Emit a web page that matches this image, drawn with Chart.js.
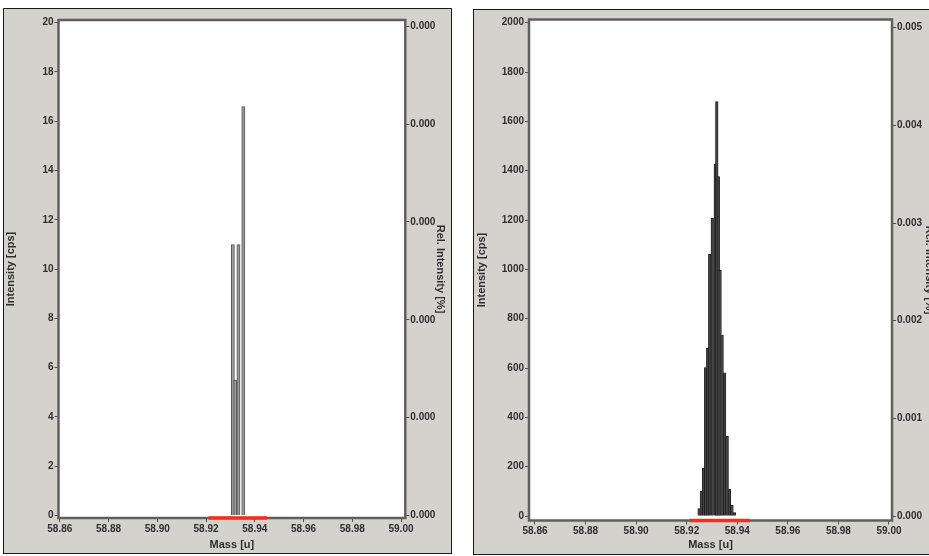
<!DOCTYPE html>
<html>
<head>
<meta charset="utf-8">
<script src="https://cdn.jsdelivr.net/npm/chart.js@4.4.1/dist/chart.umd.min.js"></script>
<style>
  html, body { margin: 0; padding: 0; background: #fff; overflow: hidden; }
  body { width: 929px; height: 556px; position: relative; }
  .panel { position: absolute; background: #d4d2cd; border: 1px solid #1a1a1a; }
  .panel canvas { display: block; }
  #panelA { left: 3px; top: 8px; width: 447px; height: 544px; }
  #panelB { left: 473px; top: 9px; width: 466px; height: 544px; }
</style>
</head>
<body>
<div class="panel" id="panelA"><canvas id="spectrumA" width="447" height="544"></canvas></div>
<div class="panel" id="panelB"><canvas id="spectrumB" width="466" height="544"></canvas></div>
<script>
// mass axis, same for both spectra
const massTicks = [58.86, 58.88, 58.90, 58.92, 58.94, 58.96, 58.98, 59.00];
const massTickLabels = ['58.86', '58.88', '58.90', '58.92', '58.94', '58.96', '58.98', '59.00'];
const windowRange = [58.921, 58.945]; // red mass window on the axis

// left spectrum
const massA = [58.9310, 58.9320, 58.9333, 58.9353];
const intensityA = [11.0, 5.5, 11.0, 16.6];
const intensityTicksA = [0, 2, 4, 6, 8, 10, 12, 14, 16, 18, 20];
const relTicksA = [0, 0.0001, 0.0002, 0.0003, 0.0004, 0.0005];
const relTickLabelsA = ['0.000', '0.000', '0.000', '0.000', '0.000', '0.000'];

// right spectrum
const massB = [58.9249, 58.9258, 58.9267, 58.9275, 58.9283, 58.9291, 58.9301, 58.9313, 58.9319,
  58.9325, 58.9332, 58.9340, 58.9350, 58.9360, 58.9369, 58.9379, 58.9389];
const intensityB = [30, 100, 194, 602, 681, 1061, 1207, 1427, 1680,
  1376, 996, 734, 581, 323, 108, 43, 14];
const intensityTicksB = [0, 200, 400, 600, 800, 1000, 1200, 1400, 1600, 1800, 2000];
const relTicksB = [0, 0.001, 0.002, 0.003, 0.004, 0.005];
const relTickLabelsB = ['0.000', '0.001', '0.002', '0.003', '0.004', '0.005'];

const tickFont = { family: '"Liberation Sans", Arial, sans-serif', size: 10, weight: 'bold' };
const titleFont = { family: '"Liberation Sans", Arial, sans-serif', size: 11, weight: 'bold' };
const inkColor = '#2e2e2e';

const plotFrame = {
  id: 'plotFrame',
  beforeDraw(chart) {
    const { ctx, chartArea: a } = chart;
    ctx.save();
    ctx.fillStyle = '#ffffff';
    ctx.fillRect(a.left, a.top, a.right - a.left, a.bottom - a.top);
    ctx.restore();
  },
  beforeDatasetsDraw(chart) {
    const { ctx, chartArea: a } = chart;
    ctx.save();
    ctx.strokeStyle = '#5f5f5f';
    ctx.lineWidth = 2.5;
    ctx.strokeRect(a.left, a.top, a.right - a.left, a.bottom - a.top);
    ctx.restore();
  }
};

function fixedTicks(values) {
  return scale => { scale.ticks = values.map(v => ({ value: v })); };
}

function tickMarks() {
  return { display: true, drawOnChartArea: false, drawTicks: true, tickLength: 4, color: '#505050', lineWidth: 1 };
}

function makeSpectrum(id, o) {
  const ctx = document.getElementById(id).getContext('2d');
  const bars = o.mass.map((m, i) => ({ x: m, y: o.intensity[i] }));
  const windowLine = windowRange.map(m => ({ x: m, y: o.yMin }));

  return new Chart(ctx, {
    type: 'bar',
    data: {
      datasets: [
        {
          type: 'line',
          data: windowLine,
          borderColor: '#ff2a1f',
          borderWidth: 3.5,
          pointRadius: 0,
          clip: false,
          order: 0
        },
        {
          data: bars,
          backgroundColor: o.barFill,
          borderColor: o.barEdge,
          borderWidth: o.barEdgeWidth,
          barThickness: o.barWidth,
          order: 1
        }
      ]
    },
    options: {
      responsive: false,
      animation: false,
      devicePixelRatio: 1,
      layout: { padding: { top: o.padTop, left: 0, right: 0, bottom: 0 } },
      plugins: { legend: { display: false }, tooltip: { enabled: false } },
      scales: {
        x: {
          type: 'linear',
          offset: false,
          bounds: 'data',
          min: o.xMin,
          max: o.xMax,
          afterBuildTicks: fixedTicks(massTicks),
          afterFit: s => { s.height = o.xAxisHeight; },
          grid: Object.assign(tickMarks(), { offset: false }),
          border: { display: false },
          ticks: {
            autoSkip: false,
            maxRotation: 0,
            padding: 1,
            font: tickFont,
            color: inkColor,
            callback: (v, i) => massTickLabels[i]
          },
          title: {
            display: true,
            text: 'Mass [u]',
            font: titleFont,
            color: inkColor,
            padding: { top: 0, bottom: o.xTitlePad }
          }
        },
        y: {
          position: 'left',
          bounds: 'data',
          min: o.yMin,
          max: o.yMax,
          afterBuildTicks: fixedTicks(o.intensityTicks),
          afterFit: s => { s.width = o.leftWidth; },
          grid: tickMarks(),
          border: { display: false },
          ticks: {
            autoSkip: false,
            padding: 1,
            font: tickFont,
            color: inkColor,
            callback: (v, i) => String(o.intensityTicks[i])
          },
          title: {
            display: true,
            text: 'Intensity [cps]',
            font: titleFont,
            color: inkColor,
            padding: { top: o.leftTitlePad, bottom: 0 }
          }
        },
        rel: {
          type: 'linear',
          position: 'right',
          bounds: 'data',
          min: o.relMin,
          max: o.relMax,
          afterBuildTicks: fixedTicks(o.relTicks),
          afterFit: s => { s.width = o.rightWidth; },
          grid: tickMarks(),
          border: { display: false },
          ticks: {
            autoSkip: false,
            padding: 1,
            font: tickFont,
            color: inkColor,
            callback: (v, i) => o.relTickLabels[i]
          },
          title: {
            display: true,
            text: 'Rel. Intensity [%]',
            font: titleFont,
            color: inkColor,
            padding: { top: o.rightTitlePad, bottom: 0 }
          }
        }
      }
    },
    plugins: [plotFrame]
  });
}

// right axis: relative scale is proportional to the intensity axis
const relPerCpsA = 0.0005 / 19.86;
makeSpectrum('spectrumA', {
  mass: massA, intensity: intensityA,
  intensityTicks: intensityTicksA, relTicks: relTicksA, relTickLabels: relTickLabelsA,
  xMin: 58.85947, xMax: 59.00176,
  yMin: -0.1, yMax: 20.11,
  relMin: -0.1 * relPerCpsA, relMax: 20.11 * relPerCpsA,
  padTop: 11, leftWidth: 54.5, rightWidth: 45.7, xAxisHeight: 35,
  leftTitlePad: 0, rightTitlePad: 4, xTitlePad: 1,
  barFill: '#9c9c9c', barEdge: '#555555', barEdgeWidth: 1, barWidth: 3.2
});

const relPerCpsB = 0.005 / 1980;
makeSpectrum('spectrumB', {
  mass: massB, intensity: intensityB,
  intensityTicks: intensityTicksB, relTicks: relTicksB, relTickLabels: relTickLabelsB,
  xMin: 58.85763, xMax: 59.00119,
  yMin: -18, yMax: 2013,
  relMin: -18 * relPerCpsB, relMax: 2013 * relPerCpsB,
  padTop: 9.5, leftWidth: 55, rightWidth: 48, xAxisHeight: 33.5,
  leftTitlePad: 1, rightTitlePad: 4, xTitlePad: 2,
  barFill: '#444444', barEdge: '#151515', barEdgeWidth: 0.7, barWidth: 2.6
});
</script>
</body>
</html>
